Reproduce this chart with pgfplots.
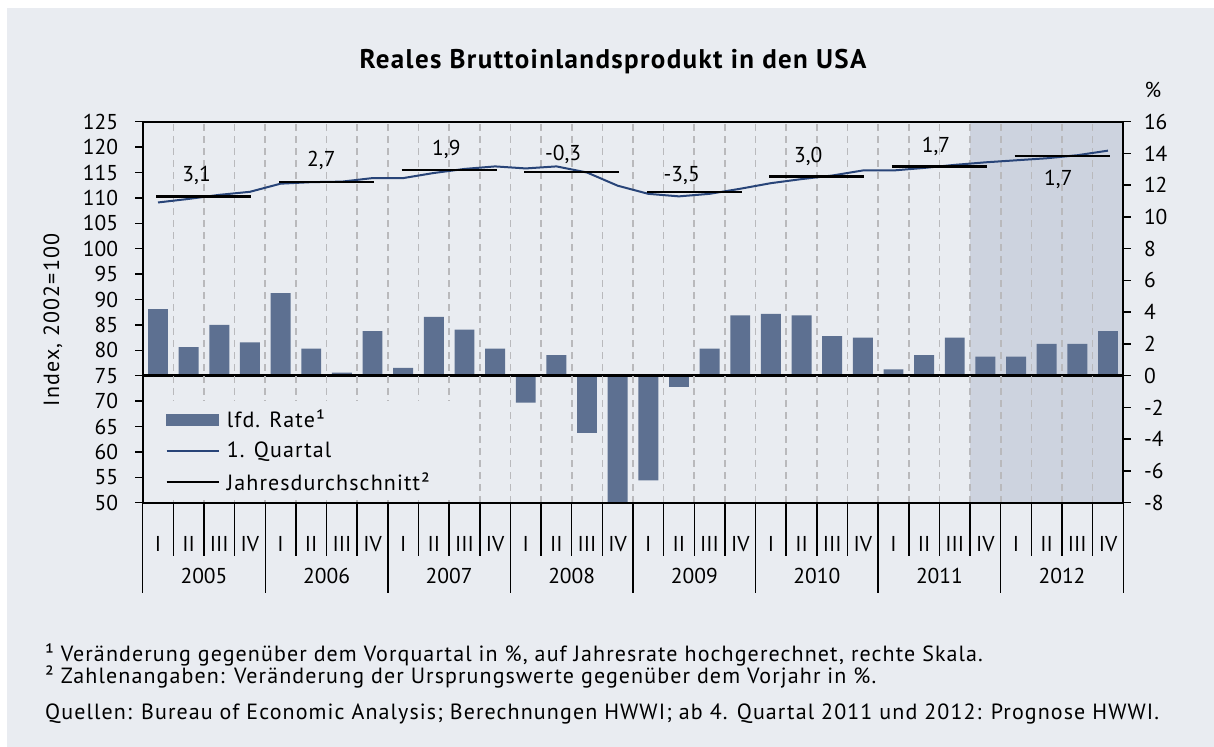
\documentclass[border=0pt]{standalone}
\usepackage{fontspec}
\setmainfont{PT Sans}[LetterSpace=5]
\newfontfamily\tickfam{PT Sans}
\usepackage{pgfplots}
\usepackage{pgfplotstable}
\pgfplotsset{compat=1.18}
\definecolor{bgcol}{RGB}{233,236,241}
\definecolor{shadecol}{RGB}{205,211,223}
\definecolor{barcol}{RGB}{93,112,145}
\definecolor{linecol}{RGB}{40,68,120}
\definecolor{gridcol}{RGB}{185,185,188}
\newcommand{\tickfont}{\tickfam\fontsize{21.5bp}{25bp}\selectfont}
\newcommand{\txtfont}{\fontsize{22bp}{26bp}\selectfont}
\newcommand{\notefont}{\fontsize{22bp}{26bp}\selectfont}

\pgfplotstableread{
x rate idx
1 4.2 109.1
2 1.8 109.8
3 3.2 110.6
4 2.1 111.2
5 5.2 112.8
6 1.7 113.1
7 0.2 113.2
8 2.8 113.9
9 0.5 113.9
10 3.7 114.9
11 2.9 115.7
12 1.7 116.2
13 -1.7 115.8
14 1.3 116.2
15 -3.6 115.0
16 -8.0 112.4
17 -6.6 110.8
18 -0.7 110.3
19 1.7 110.8
20 3.8 111.8
21 3.9 112.9
22 3.8 113.7
23 2.5 114.4
24 2.4 115.4
25 0.4 115.4
26 1.3 115.9
27 2.4 116.5
28 1.2 117.0
29 1.2 117.4
30 2.0 117.8
31 2.0 118.4
32 2.8 119.3
}\datatab

\pgfplotstableread{
x y
0.95 110.3
4.05 110.3
nan nan
4.95 113.1
8.05 113.1
nan nan
8.95 115.5
12.05 115.5
nan nan
12.95 115.1
16.05 115.1
nan nan
16.95 111.2
20.05 111.2
nan nan
20.95 114.25
24.05 114.25
nan nan
24.95 116.2
28.05 116.2
nan nan
28.95 118.2
32.05 118.2
}\avgtab

\pgfplotstableread{
x y
0.5 50
0.5 32.3
nan nan
1.5 50
1.5 39.6
nan nan
2.5 50
2.5 39.6
nan nan
3.5 50
3.5 39.6
nan nan
4.5 50
4.5 32.3
nan nan
5.5 50
5.5 39.6
nan nan
6.5 50
6.5 39.6
nan nan
7.5 50
7.5 39.6
nan nan
8.5 50
8.5 32.3
nan nan
9.5 50
9.5 39.6
nan nan
10.5 50
10.5 39.6
nan nan
11.5 50
11.5 39.6
nan nan
12.5 50
12.5 32.3
nan nan
13.5 50
13.5 39.6
nan nan
14.5 50
14.5 39.6
nan nan
15.5 50
15.5 39.6
nan nan
16.5 50
16.5 32.3
nan nan
17.5 50
17.5 39.6
nan nan
18.5 50
18.5 39.6
nan nan
19.5 50
19.5 39.6
nan nan
20.5 50
20.5 32.3
nan nan
21.5 50
21.5 39.6
nan nan
22.5 50
22.5 39.6
nan nan
23.5 50
23.5 39.6
nan nan
24.5 50
24.5 32.3
nan nan
25.5 50
25.5 39.6
nan nan
26.5 50
26.5 39.6
nan nan
27.5 50
27.5 39.6
nan nan
28.5 50
28.5 32.3
nan nan
29.5 50
29.5 39.6
nan nan
30.5 50
30.5 39.6
nan nan
31.5 50
31.5 39.6
nan nan
32.5 50
32.5 32.3
}\septab

\pgfplotsset{
  commonax/.style={
    scale only axis, width=980.6bp, height=381bp,
    at={(142.7bp,244.3bp)}, anchor=south west,
    xmin=0.5, xmax=32.5,
    axis line style={line width=1.8bp, black},
    major tick length=7.5bp,
    tick align=outside,
    ytick style={line width=1.5bp, black},
    xtick style={draw=none},
    ticklabel style={font=\tickfont},
    /pgf/number format/assume math mode=true,
  }
}

\begin{document}
\begin{tikzpicture}
\fill[white] (0,0) rectangle (1214bp,747bp);
\fill[bgcol] (7bp,0) rectangle (1214bp,739bp);

% right axis: rates (bars)
\begin{axis}[commonax,
  axis on top,
  ymin=-8, ymax=16, ytick={-8,-6,...,16},
  ytick pos=right, yticklabel pos=right,
  yticklabel style={anchor=west, inner sep=0pt, xshift=13bp},
  xtick={1.5,2.5,...,31.5}, xticklabels={},
  xmajorgrids,
  major x grid style={gridcol, line width=1.6bp, dash pattern=on 7bp off 5bp},
]
\addplot[draw=none, fill=shadecol, forget plot] coordinates {(27.5,-8) (27.5,16) (32.5,16) (32.5,-8)} -- cycle;
\addplot[ybar, bar width=0.65, fill=barcol, draw=none, forget plot] table[x=x, y=rate]{\datatab};
\addplot[black, line width=2.4bp, forget plot] coordinates {(0.5,0) (32.5,0)};
\end{axis}

% left axis: index (lines)
\begin{axis}[commonax,
  clip=false,
  ymin=50, ymax=125, ytick={50,55,...,125},
  ytick pos=left,
  yticklabel style={anchor=east, inner sep=0pt, xshift=-17bp},
  xtick={1,...,32},
  xticklabels={I,II,III,IV,I,II,III,IV,I,II,III,IV,I,II,III,IV,I,II,III,IV,I,II,III,IV,I,II,III,IV,I,II,III,IV},
  xticklabel style={anchor=center, inner sep=0pt, yshift=-34bp},
  unbounded coords=jump,
  legend image code/.code={\draw[#1] (0bp,0bp) -- (52bp,0bp);},
  legend cell align=left,
  legend style={at={(rel axis cs:0,0)}, anchor=south west, xshift=2.5bp, yshift=2bp,
    fill=bgcol, draw=none, font=\txtfont, inner xsep=20bp, inner ysep=7bp,
    row sep=9bp, column sep=5bp},
]
\addlegendimage{legend image code/.code={\fill[barcol] (0bp,-5.5bp) rectangle (52bp,5.5bp);}}
\addlegendentry{lfd. Rate¹}
\addplot[linecol, line width=2bp] table[x=x, y=idx]{\datatab};
\addlegendentry{1. Quartal}
\addplot[black, line width=2.5bp] table[x=x, y=y]{\avgtab};
\addlegendentry{Jahresdurchschnitt²}
\addplot[black, line width=1.5bp, forget plot] table[x=x, y=y]{\septab};

\node[font=\tickfont] at (axis cs:2.26,114.4) {3,1};
\node[font=\tickfont] at (axis cs:6.33,117.3) {2,7};
\node[font=\tickfont] at (axis cs:10.41,119.5) {1,9};
\node[font=\tickfont] at (axis cs:14.22,118.6) {-0,3};
\node[font=\tickfont] at (axis cs:18.09,114.4) {-3,5};
\node[font=\tickfont] at (axis cs:22.22,118.1) {3,0};
\node[font=\tickfont] at (axis cs:26.39,120.1) {1,7};
\node[font=\tickfont] at (axis cs:30.38,113.7) {1,7};

\node[font=\tickfont, yshift=-73bp] at (axis cs:2.5,50) {2005};
\node[font=\tickfont, yshift=-73bp] at (axis cs:6.5,50) {2006};
\node[font=\tickfont, yshift=-73bp] at (axis cs:10.5,50) {2007};
\node[font=\tickfont, yshift=-73bp] at (axis cs:14.5,50) {2008};
\node[font=\tickfont, yshift=-73bp] at (axis cs:18.5,50) {2009};
\node[font=\tickfont, yshift=-73bp] at (axis cs:22.5,50) {2010};
\node[font=\tickfont, yshift=-73bp] at (axis cs:26.5,50) {2011};
\node[font=\tickfont, yshift=-73bp] at (axis cs:30.5,50) {2012};
\end{axis}

\node[font=\fontsize{27bp}{32bp}\selectfont\bfseries, anchor=base] at (613bp,678bp) {Reales Bruttoinlandsprodukt in den USA};
\node[font=\tickfont] at (1153bp,657bp) {\%};
\node[font=\txtfont, rotate=90] at (53bp,427bp) {Index, 2002=100};

\node[font=\notefont, anchor=base west, inner sep=0pt] at (45bp,85bp) {¹ Veränderung gegenüber dem Vorquartal in \%, auf Jahresrate hochgerechnet, rechte Skala.};
\node[font=\notefont, anchor=base west, inner sep=0pt] at (45bp,63bp) {² Zahlenangaben: Veränderung der Ursprungswerte gegenüber dem Vorjahr in \%.};
\node[font=\notefont, anchor=base west, inner sep=0pt] at (45bp,28bp) {Quellen: Bureau of Economic Analysis; Berechnungen HWWI; ab 4. Quartal 2011 und 2012: Prognose HWWI.};

\pgfresetboundingbox
\useasboundingbox (0,0) rectangle (1214bp,747bp);
\end{tikzpicture}
\end{document}
